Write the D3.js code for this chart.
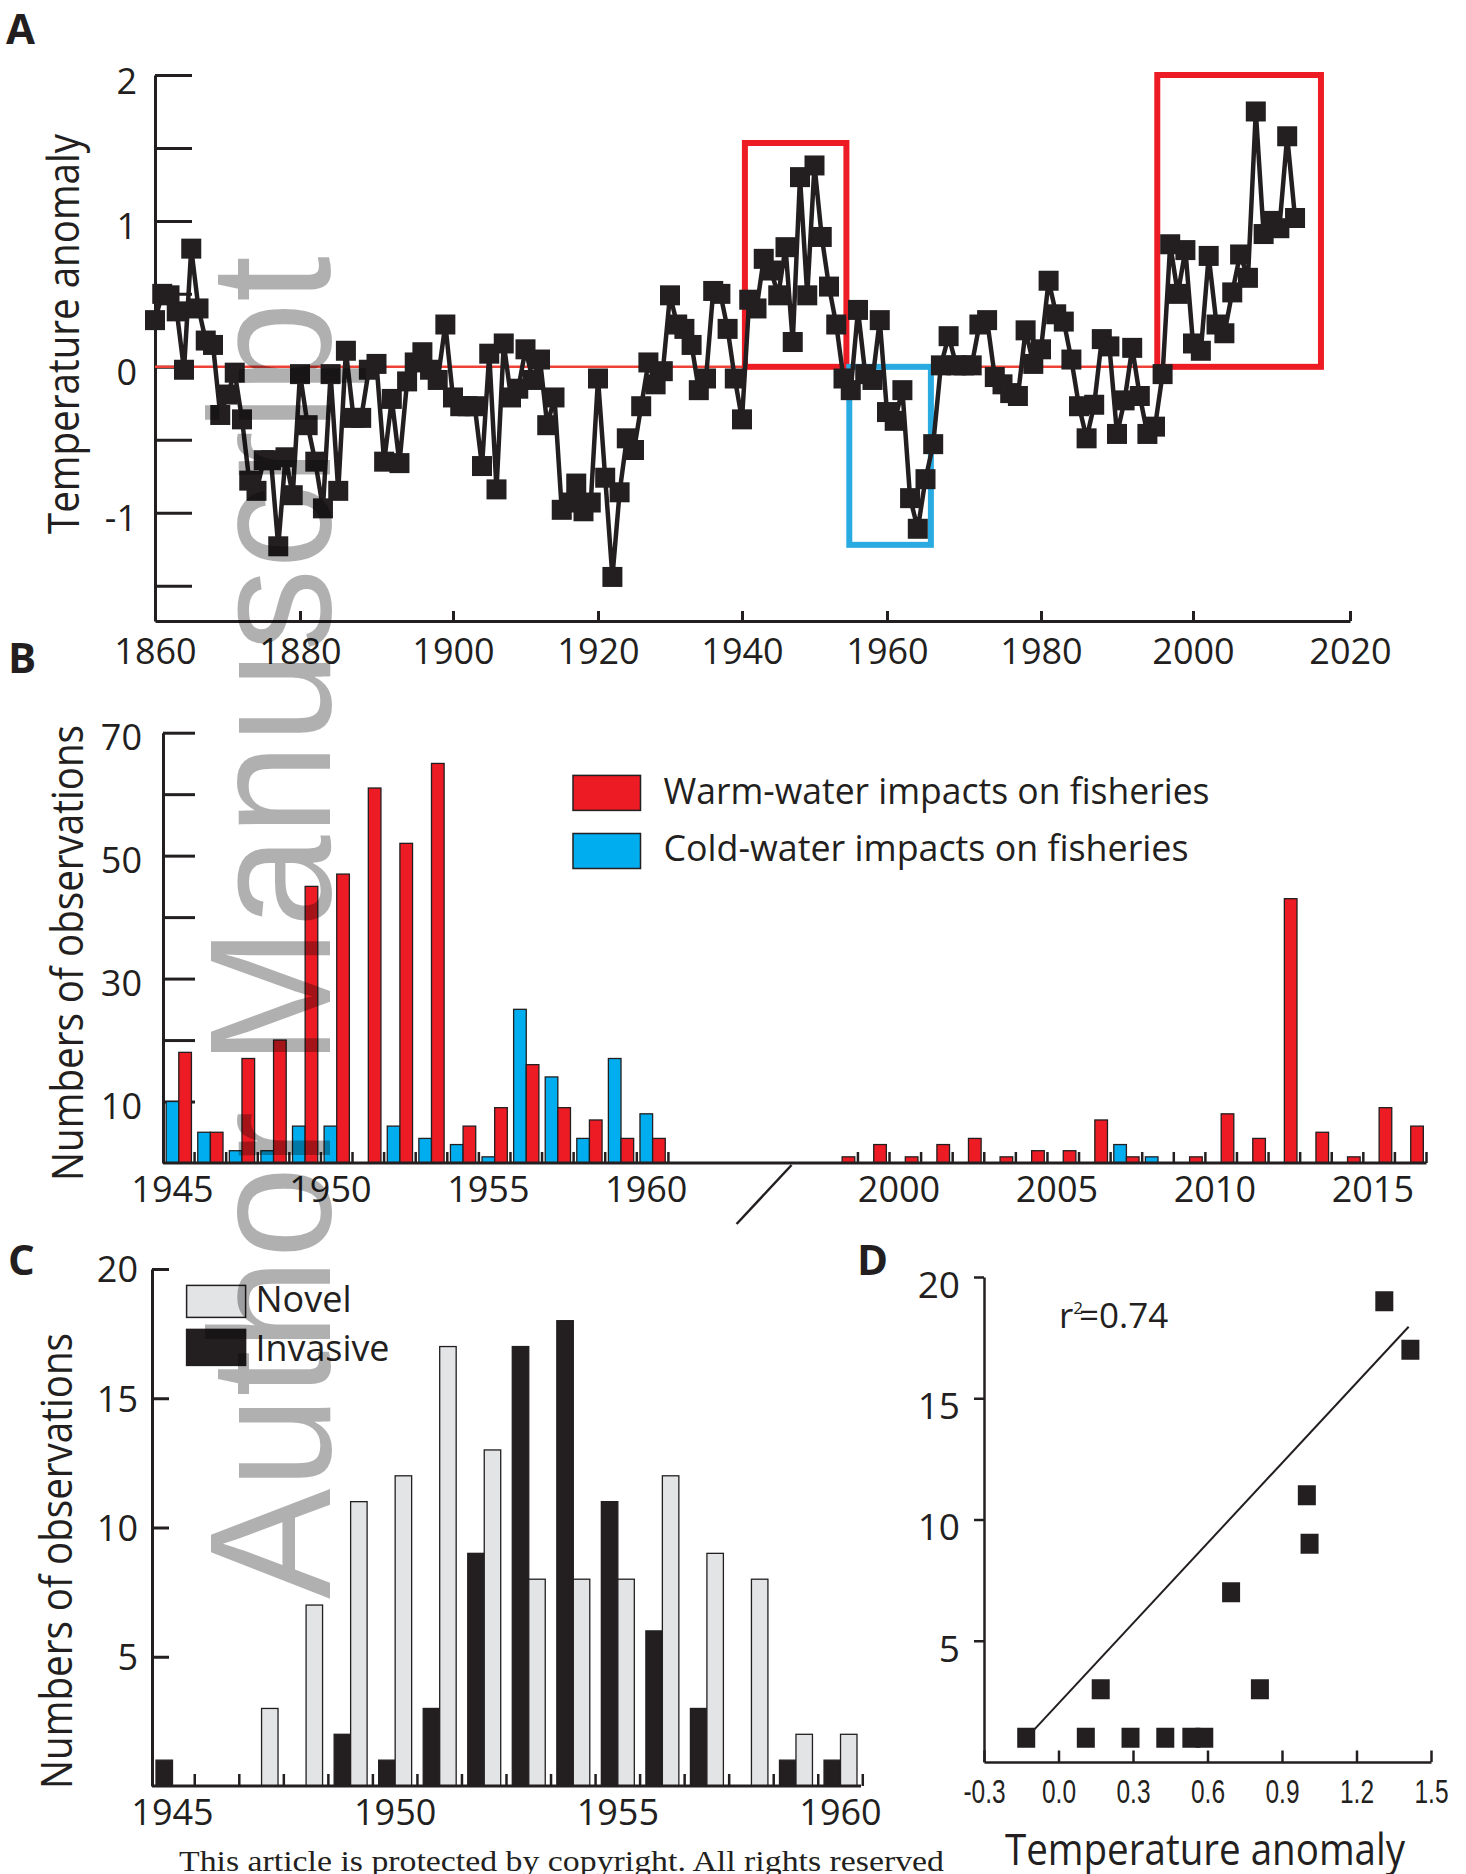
<!DOCTYPE html>
<html><head><meta charset="utf-8">
<script src="https://cdn.jsdelivr.net/npm/d3@7"></script>
<style>
body{margin:0;background:#fff;}
svg{display:block;background:#fff;}
text{font-family:"Open Sans","Noto Sans",sans-serif;fill:#231f20;}
</style></head><body>
<svg id="c" width="1466" height="1874"></svg>
<script>
// ---------------- DATA ----------------
// Panel A: annual temperature anomaly, 1860 onward
const startYearA = 1860;
const anomaly = [
 0.32, 0.50, 0.49, 0.38,-0.02, 0.81, 0.40, 0.18, 0.15,-0.33,
-0.19,-0.04,-0.36,-0.78,-0.85,-0.64,-0.64,-1.23,-0.62,-0.88,
-0.05,-0.40,-0.65,-0.97,-0.05,-0.85, 0.11,-0.35,-0.35,-0.02,
 0.02,-0.65,-0.22,-0.66,-0.10, 0.03, 0.10,-0.02,-0.09, 0.29,
-0.21,-0.27,-0.27,-0.27,-0.68, 0.09,-0.84, 0.16,-0.21,-0.15,
 0.12,-0.09, 0.05,-0.40,-0.21,-0.98,-0.93,-0.80,-0.99,-0.93,
-0.08,-0.76,-1.44,-0.86,-0.49,-0.57,-0.27, 0.03,-0.12,-0.03,
 0.49, 0.29, 0.26, 0.15,-0.16,-0.08, 0.52, 0.50, 0.26,-0.08,
-0.36, 0.46, 0.40, 0.74, 0.66, 0.49, 0.82, 0.17, 1.30, 0.49,
 1.38, 0.89, 0.55, 0.29,-0.08,-0.16, 0.39,-0.05,-0.09, 0.32,
-0.31,-0.37,-0.16,-0.90,-1.11,-0.77,-0.53, 0.01, 0.21, 0.01,
 0.01, 0.01, 0.29, 0.32,-0.07,-0.12,-0.18,-0.20, 0.25, 0.02,
 0.12, 0.59, 0.36, 0.31, 0.05,-0.27,-0.49,-0.26, 0.19, 0.14,
-0.46,-0.23, 0.13,-0.20,-0.46,-0.41,-0.05, 0.84, 0.50, 0.80,
 0.16, 0.11, 0.76, 0.29, 0.23, 0.51, 0.77, 0.61, 1.75, 0.91,
 1.00, 0.95, 1.58, 1.02
];
const yearTicksA = [1860,1880,1900,1920,1940,1960,1980,2000,2020];
const valueTicksA = [-1.5,-1,-0.5,0,0.5,1,1.5,2];
const valueLabelsA = [-1,0,1,2];
const boxStart = [1940.4, 1954.8, 1995.3];
const boxEnd   = [1954.4, 1965.7, 2016.3];
const boxLow   = [0, -1.22, 0];
const boxHigh  = [1.534, 0, 2.0];
const boxColor = ["#ed1c24", "#29abe2", "#ed1c24"];
const zeroLineEnd = 1995.3;

// Panel B: observations per year
const yearsBLeft  = ["1945","1946","1947","1948","1949","1950","1951","1952","1953","1954","1955","1956","1957","1958","1959","1960"];
const gapSlots    = ["g1","g2","g3","g4","g5"];
const yearsBRight = ["1998","1999","2000","2001","2002","2003","2004","2005","2006","2007","2008","2009","2010","2011","2012","2013","2014","2015","2016"];
const warmLeft  = [18,5,17,20,45,47,61,52,65,6,9,16,9,7,4,4];
const coldLeft  = [10,5,2,2,6,6,0,6,4,3,1,25,14,4,17,8];
const warmRight = [1,3,1,3,4,1,2,2,7,1,0,1,8,4,43,5,1,9,6];
const coldRight = [0,0,0,0,0,0,0,0,0,3,1,0,0,0,0,0,0,0,0];
const yTicksB = [10,20,30,40,50,60,70];
const yLabelsB = [10,30,50,70];
const xLabelsB = ["1945","1950","1955","1960","2000","2005","2010","2015"];
const legendB = ["Warm-water impacts on fisheries","Cold-water impacts on fisheries"];

// Panel C
const yearsC = ["1945","1946","1947","1948","1949","1950","1951","1952","1953","1954","1955","1956","1957","1958","1959","1960"];
const invasiveC = [1,0,0,0,2,1,3,9,17,18,11,6,3,0,1,1];
const novelC    = [0,0,3,7,11,12,17,13,8,8,8,12,9,8,2,2];
const yTicksC = [5,10,15,20];
const xLabelsC = ["1945","1950","1955","1960"];

// Panel D
const tempD  = [-0.13,0.11,0.17,0.29,0.43,0.535,0.587,0.695,0.811,1.0,1.011,1.312,1.417];
const countD = [1,1,3,1,1,1,1,7,3,11,9,19,17];
const fitX = [-0.11, 1.41];
const fitY = [1.2, 17.95];
const xTicksD = [-0.3,0.0,0.3,0.6,0.9,1.2,1.5];
const yTicksD = [5,10,15,20];

// ---------------- DRAW ----------------
const INK = "#231f20";
const svg = d3.select("#c");
const FS = 36;
function styleAxis(sel, fs, fam, sw){
  sel.attr("font-family", null).attr("font-size", null);
  sel.selectAll("path.domain").attr("stroke", INK).attr("stroke-width", sw||3);
  sel.selectAll(".tick line").attr("stroke", INK).attr("stroke-width", sw||3);
  sel.selectAll(".tick text").attr("fill", INK).style("font-size", fs+"px")
     .style("font-family", fam || '"Open Sans","Noto Sans",sans-serif');
}
function panelLetter(t, x, y){
  svg.append("text").attr("x", x).attr("y", y).text(t)
    .style("font-size","42px").style("font-weight","700");
}

// ===== Panel A =====
const xA = d3.scaleLinear().domain(yearTicksA).range([155,300,453,598,742,887,1041,1193,1350]);
const yA = d3.scaleLinear().domain([-1.742, 2]).range([621, 75]);
const gA = svg.append("g");
gA.append("g").attr("transform","translate(155,0)")
  .call(d3.axisLeft(yA).tickValues(valueTicksA).tickSizeInner(-37).tickSizeOuter(0).tickPadding(18)
    .tickFormat(d => valueLabelsA.includes(d) ? String(d) : ""))
  .call(s => styleAxis(s, FS))
  .call(s => s.selectAll(".tick text").attr("dy","0.5em"));
gA.append("g").attr("transform","translate(0,621)")
  .call(d3.axisBottom(xA).tickValues(yearTicksA).tickSizeInner(-10).tickSizeOuter(0).tickPadding(17)
    .tickFormat(d => String(d)))
  .call(s => styleAxis(s, FS));
gA.append("line").attr("x1", xA(startYearA)).attr("x2", xA(zeroLineEnd))
  .attr("y1", yA(0)).attr("y2", yA(0)).attr("stroke","#ef4136").attr("stroke-width",2.5);
gA.selectAll("rect.box").data(boxStart).join("rect").attr("class","box")
  .attr("x",(d,i)=>xA(d)).attr("width",(d,i)=>xA(boxEnd[i])-xA(d))
  .attr("y",(d,i)=>yA(boxHigh[i])).attr("height",(d,i)=>yA(boxLow[i])-yA(boxHigh[i]))
  .attr("fill","none").attr("stroke",(d,i)=>boxColor[i]).attr("stroke-width",6);
const lineA = d3.line().x((d,i)=>xA(startYearA+i)).y(d=>yA(d));
gA.append("path").attr("d", lineA(anomaly)).attr("fill","none")
  .attr("stroke", INK).attr("stroke-width", 4.5);
gA.selectAll("rect.pt").data(anomaly).join("rect").attr("class","pt")
  .attr("x",(d,i)=>xA(startYearA+i)-10).attr("y",d=>yA(d)-10)
  .attr("width",20).attr("height",20).attr("fill",INK);
gA.append("text").attr("transform","translate(79,334) rotate(-90)")
  .attr("text-anchor","middle").attr("textLength",400).attr("lengthAdjust","spacingAndGlyphs")
  .style("font-size","43px").text("Temperature anomaly");
panelLetter("A", 6, 44);

// ===== Panel B =====
const domainB = [...yearsBLeft, ...gapSlots, ...yearsBRight];
const xB = d3.scaleBand().domain(domainB).range([163, 1426.5]).paddingInner(0.2).paddingOuter(0.1);
const subB = d3.scaleBand().domain(["cold","warm"]).range([0, xB.bandwidth()]);
const yB = d3.scaleLinear().domain([0,70]).range([1163, 732.7]);
const gB = svg.append("g");
gB.append("g").attr("transform","translate(163,0)")
  .call(d3.axisLeft(yB).tickValues(yTicksB).tickSizeInner(-32).tickSizeOuter(0).tickPadding(21)
    .tickFormat(d => yLabelsB.includes(d) ? String(d) : ""))
  .call(s => styleAxis(s, FS))
  .call(s => s.selectAll(".tick text").attr("dy","0.47em"));
const barsB = [];
yearsBLeft.forEach((y,i)=>{ barsB.push({k:y,s:"cold",v:coldLeft[i]}); barsB.push({k:y,s:"warm",v:warmLeft[i]}); });
yearsBRight.forEach((y,i)=>{ barsB.push({k:y,s:"cold",v:coldRight[i]}); barsB.push({k:y,s:"warm",v:warmRight[i]}); });
gB.selectAll("rect.bar").data(barsB.filter(d=>d.v>0)).join("rect").attr("class","bar")
  .attr("x",d=>xB(d.k)+subB(d.s)).attr("width",subB.bandwidth())
  .attr("y",d=>yB(d.v)).attr("height",d=>yB(0)-yB(d.v))
  .attr("fill",d=>d.s==="warm"?"#ed1c24":"#00aeef").attr("stroke",INK).attr("stroke-width",1.3);
// x axis line and ticks
gB.append("line").attr("x1",163).attr("x2",1426.5).attr("y1",yB(0)).attr("y2",yB(0))
  .attr("stroke",INK).attr("stroke-width",3);
const tickPosB = [...yearsBLeft, ...yearsBRight].map(k => xB(k)+xB.bandwidth()+xB.step()*xB.paddingInner()/2);
gB.selectAll("line.tk").data(tickPosB).join("line").attr("class","tk")
  .attr("x1",d=>d).attr("x2",d=>d).attr("y1",yB(0)).attr("y2",yB(0)-11)
  .attr("stroke",INK).attr("stroke-width",2.5);
gB.selectAll("text.xl").data(xLabelsB).join("text").attr("class","xl")
  .attr("x",d=>xB(d)+subB("cold")+subB.bandwidth()/2).attr("y",yB(0)+39)
  .attr("text-anchor","middle").style("font-size",FS+"px").text(d=>d);
// axis break mark
gB.append("line").attr("x1",xB("g4")+xB.bandwidth()).attr("y1",yB(0)+2)
  .attr("x2",xB("g4")+xB.bandwidth()-55).attr("y2",yB(0)+61)
  .attr("stroke",INK).attr("stroke-width",2.5);
// legend
const legColors = ["#ed1c24","#00aeef"];
const legLen = [546, 525];
legendB.forEach((t,i)=>{
  gB.append("rect").attr("x",573).attr("y",775.4+i*58.1).attr("width",67.5).attr("height",35)
    .attr("fill",legColors[i]).attr("stroke",INK).attr("stroke-width",1.5);
  gB.append("text").attr("x",663.5).attr("y",804+i*57.2).attr("textLength",legLen[i])
    .attr("lengthAdjust","spacingAndGlyphs").style("font-size","37px").text(t);
});
gB.append("text").attr("transform","translate(83,953) rotate(-90)")
  .attr("text-anchor","middle").attr("textLength",456).attr("lengthAdjust","spacingAndGlyphs")
  .style("font-size","44px").text("Numbers of observations");
panelLetter("B", 8, 673);

// ===== Panel C =====
const xC = d3.scaleBand().domain(yearsC).range([152, 861]).paddingInner(0.26).paddingOuter(0.09);
const subC = d3.scaleBand().domain(["inv","novel"]).range([0, xC.bandwidth()]);
const yC = d3.scaleLinear().domain([0,20]).range([1786, 1269]);
const gC = svg.append("g");
gC.append("g").attr("transform","translate(152,0)")
  .call(d3.axisLeft(yC).tickValues(yTicksC).tickSizeInner(-17).tickSizeOuter(0).tickPadding(14)
    .tickFormat(d => String(d)))
  .call(s => styleAxis(s, FS))
  .call(s => s.selectAll(".tick text").attr("dy","0.36em"));
const barsC = [];
yearsC.forEach((y,i)=>{ barsC.push({k:y,s:"inv",v:invasiveC[i]}); barsC.push({k:y,s:"novel",v:novelC[i]}); });
gC.selectAll("rect.bar").data(barsC.filter(d=>d.v>0)).join("rect").attr("class","bar")
  .attr("x",d=>xC(d.k)+subC(d.s)).attr("width",subC.bandwidth())
  .attr("y",d=>yC(d.v)).attr("height",d=>yC(0)-yC(d.v))
  .attr("fill",d=>d.s==="inv"?INK:"#e3e4e5").attr("stroke",INK).attr("stroke-width",1.3);
gC.append("line").attr("x1",152).attr("x2",861).attr("y1",yC(0)).attr("y2",yC(0))
  .attr("stroke",INK).attr("stroke-width",3);
const tickPosC = yearsC.map(k => xC(k)+xC.bandwidth()+xC.step()*xC.paddingInner()/2);
gC.selectAll("line.tk").data(tickPosC).join("line").attr("class","tk")
  .attr("x1",d=>d).attr("x2",d=>d).attr("y1",yC(0)).attr("y2",yC(0)-12)
  .attr("stroke",INK).attr("stroke-width",2.5);
gC.selectAll("text.xl").data(xLabelsC).join("text").attr("class","xl")
  .attr("x",d=>xC(d)+xC.bandwidth()/2).attr("y",yC(0)+39)
  .attr("text-anchor","middle").style("font-size",FS+"px").text(d=>d);
const legC = [{t:"Novel",f:"#e3e4e5",y:1285.4,h:32,ty:1312,len:96},{t:"Invasive",f:INK,y:1329.4,h:36,ty:1361,len:134}];
legC.forEach(d=>{
  gC.append("rect").attr("x",186.6).attr("y",d.y).attr("width",59).attr("height",d.h)
    .attr("fill",d.f).attr("stroke",INK).attr("stroke-width",1.5);
  gC.append("text").attr("x",255.5).attr("y",d.ty).attr("textLength",d.len)
    .attr("lengthAdjust","spacingAndGlyphs").style("font-size","37px").text(d.t);
});
gC.append("text").attr("transform","translate(72,1561) rotate(-90)")
  .attr("text-anchor","middle").attr("textLength",456).attr("lengthAdjust","spacingAndGlyphs")
  .style("font-size","44px").text("Numbers of observations");
panelLetter("C", 8, 1275);

// ===== Panel D =====
const xD = d3.scaleLinear().domain([-0.3,1.5]).range([984,1431]);
const yD = d3.scaleLinear().domain([0,20]).range([1762,1277]);
const gD = svg.append("g");
gD.append("g").attr("transform","translate(984,0)")
  .call(d3.axisLeft(yD).tickValues(yTicksD).tickSizeInner(10).tickSizeOuter(0).tickPadding(14)
    .tickFormat(d => String(d)))
  .call(s => styleAxis(s, 37, null, 2.5))
  .call(s => s.selectAll(".tick text").attr("dy","0.55em"));
gD.append("g").attr("transform","translate(0,1762)")
  .call(d3.axisBottom(xD).tickValues(xTicksD).tickSizeInner(-11.5).tickSizeOuter(0).tickPadding(17)
    .tickFormat(d => d.toFixed(1)))
  .call(s => styleAxis(s, 34, '"Liberation Sans",Arial,sans-serif', 2.5))
  .call(s => s.selectAll(".tick text").attr("transform","scale(0.72,1)"));
gD.append("line").attr("x1",xD(fitX[0])).attr("y1",yD(fitY[0]))
  .attr("x2",xD(fitX[1])).attr("y2",yD(fitY[1])).attr("stroke",INK).attr("stroke-width",2);
gD.selectAll("rect.pt").data(tempD).join("rect").attr("class","pt")
  .attr("x",d=>xD(d)-9).attr("y",(d,i)=>yD(countD[i])-10)
  .attr("width",18).attr("height",20).attr("fill",INK);
const rt = gD.append("text").attr("x",1059).attr("y",1328).style("font-size","35px");
rt.append("tspan").text("r");
rt.append("tspan").attr("dy",-14).style("font-size","17px").text("2");
rt.append("tspan").attr("dy",14).attr("dx",-4).text("=0.74");
gD.append("text").attr("x",1205).attr("y",1865).attr("text-anchor","middle")
  .attr("textLength",400).attr("lengthAdjust","spacingAndGlyphs")
  .style("font-size","43px").text("Temperature anomaly");
panelLetter("D", 857, 1275);

// ===== footer & watermark =====
svg.append("text").attr("x",179).attr("y",1871).attr("textLength",765).attr("lengthAdjust","spacingAndGlyphs")
  .style("font-family",'"Liberation Serif","DejaVu Serif",serif').style("font-size","29px")
  .text("This article is protected by copyright. All rights reserved");
svg.append("text").attr("transform","translate(330,1599) rotate(-90)")
  .attr("textLength",1343).attr("lengthAdjust","spacingAndGlyphs")
  .style("font-family",'"Liberation Sans",Arial,sans-serif').style("font-size","172px")
  .style("fill","#000").style("fill-opacity",0.31).text("Author Manuscript");
</script>
</body></html>
